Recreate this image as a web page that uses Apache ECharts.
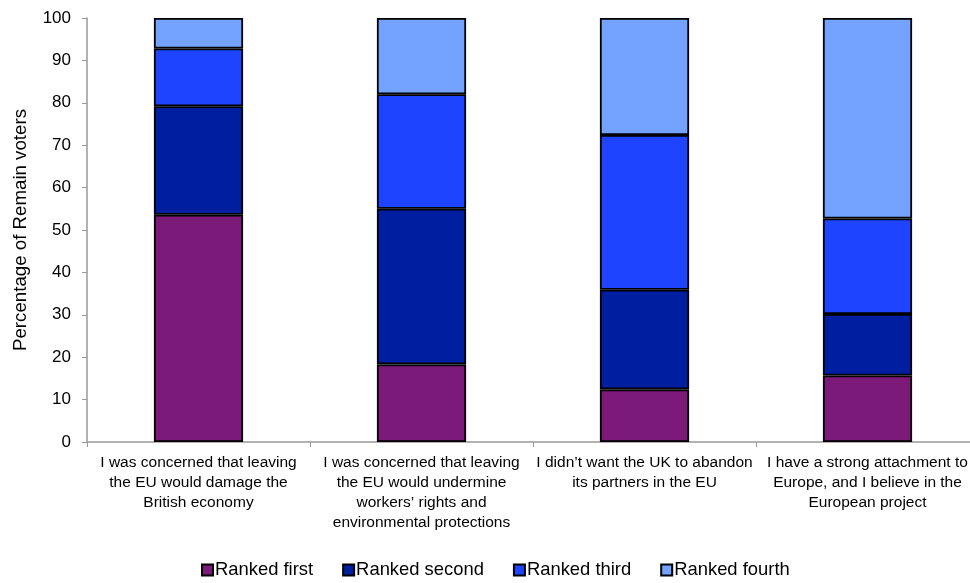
<!DOCTYPE html>
<html>
<head>
<meta charset="utf-8">
<script src="https://cdn.jsdelivr.net/npm/echarts@6/dist/echarts.min.js"></script>
<style>html,body{margin:0;padding:0;background:#fff;}#c{width:970px;height:583px;}</style>
</head>
<body>
<div id="c"></div>
<script>
var categories = [
  "I was concerned that leaving\nthe EU would damage the\nBritish economy",
  "I was concerned that leaving\nthe EU would undermine\nworkers\u2019 rights and\nenvironmental protections",
  "I didn\u2019t want the UK to abandon\nits partners in the EU",
  "I have a strong attachment to\nEurope, and I believe in the\nEuropean project"
];
var seriesNames = ["Ranked first", "Ranked second", "Ranked third", "Ranked fourth"];
var rankedFirst  = [53.6, 18.3, 12.4, 15.7];
var rankedSecond = [25.6, 36.7, 23.5, 14.5];
var rankedThird  = [13.6, 27.0, 36.5, 22.5];
var rankedFourth = [7.2, 18.0, 27.6, 47.3];
var yTicks = [0, 10, 20, 30, 40, 50, 60, 70, 80, 90, 100];
var colors = ["#7B1A78", "#001EA0", "#1F44FF", "#74A2FF"];
var values = [rankedFirst, rankedSecond, rankedThird, rankedFourth];

var font = "'Liberation Sans', Arial, sans-serif";
// detect a narrow font for the category labels
var catFont = font, catSize = 15.5;
(function () {
  var cv = document.createElement('canvas').getContext('2d');
  cv.font = "20px monospace";
  var w0 = cv.measureText("I was concerned that leaving").width;
  cv.font = "20px 'Liberation Sans Narrow', monospace";
  var w1 = cv.measureText("I was concerned that leaving").width;
  if (Math.abs(w1 - w0) > 1) { catFont = "'Liberation Sans Narrow', sans-serif"; catSize = 18; }
})();

var chart = echarts.init(document.getElementById('c'), null, {renderer: 'canvas'});
chart.setOption({
  animation: false,
  textStyle: {fontFamily: font},
  grid: {left: 87, top: 18, bottom: 141, right: -9, containLabel: false, outerBoundsMode: 'none'},
  legend: {
    data: seriesNames,
    top: 556,
    left: 196,
    itemWidth: 11, itemHeight: 11, itemGap: 29,
    icon: 'rect',
    textStyle: {fontSize: 18.4, color: '#000', fontFamily: font, padding: [0, 0, 0, -3]}
  },
  xAxis: {
    type: 'category',
    data: categories,
    axisLine: {lineStyle: {color: '#999', width: 1.5}},
    axisTick: {show: true, alignWithLabel: false, length: 5, lineStyle: {color: '#999'}},
    axisLabel: {interval: 0, color: '#000', fontSize: catSize, lineHeight: 20, margin: 11, fontFamily: catFont}
  },
  yAxis: {
    type: 'value',
    min: yTicks[0], max: yTicks[yTicks.length - 1], interval: 10,
    name: 'Percentage of Remain voters',
    nameLocation: 'middle',
    nameGap: 57,
    nameTextStyle: {fontSize: 18.7, color: '#000', fontFamily: font},
    axisLine: {show: true, lineStyle: {color: '#999', width: 1.5}},
    axisTick: {show: true, length: 5, lineStyle: {color: '#999'}},
    splitLine: {show: false},
    axisLabel: {color: '#000', fontSize: 17, margin: 16, fontFamily: font}
  },
  series: seriesNames.map(function (n, i) {
    return {
      name: n,
      type: 'bar',
      stack: 'total',
      barWidth: '40%',
      data: values[i],
      itemStyle: {color: colors[i], borderColor: '#000', borderWidth: 1.8}
    };
  })
});
</script>
</body>
</html>
